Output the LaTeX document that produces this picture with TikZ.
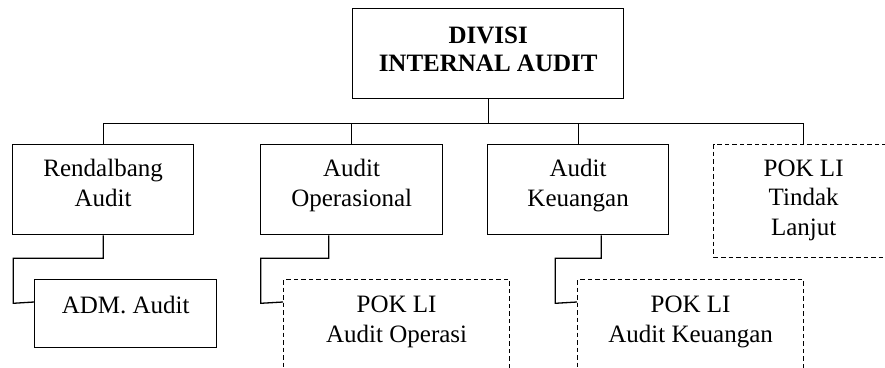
\documentclass[tikz,border=0pt]{standalone}
\usepackage{fontspec}
\setmainfont{Liberation Serif}
\usetikzlibrary{calc}
\begin{document}
\begin{tikzpicture}[x=1pt,y=-1pt,
  box/.style={draw, line width=1.3pt, minimum width=#1, inner sep=0pt, anchor=north west},
  dbox/.style={box=#1, dash pattern=on 4.5pt off 3pt},
  txt/.style={font=\fontsize{25}{29.5}\selectfont, align=center, inner sep=0pt, anchor=base},
  btxt/.style={font=\fontsize{25}{28}\selectfont\bfseries, align=center, inner sep=0pt, anchor=base},
  conn/.style={line width=1.3pt}]
\useasboundingbox (0,0) rectangle (885,367);
\clip (0,0) rectangle (885,367);
% boxes
\node[box=271pt, minimum height=90pt] (top) at (352,8) {};
\node[box=181pt, minimum height=90pt] (rend) at (12,144) {};
\node[box=182pt, minimum height=90pt] (op) at (260,144) {};
\node[box=181pt, minimum height=90pt] (keu) at (487,144) {};
\node[dbox=180pt, minimum height=113pt] (tl) at (713,144) {};
\node[box=182pt, minimum height=68pt] (adm) at (34,279) {};
\node[dbox=226pt, minimum height=110pt] (poa) at (283,279) {};
\node[dbox=226pt, minimum height=110pt] (pak) at (577,279) {};
% texts (anchored at the baseline of the last line)
\node[btxt] (ttop) at (top.center |- 0,71) {DIVISI\\INTERNAL AUDIT};
\node[txt] (trend) at (rend.center |- 0,206) {Rendalbang\\Audit};
\node[txt] (top2) at (op.center |- 0,206) {Audit\\Operasional};
\node[txt] (tkeu) at (keu.center |- 0,206) {Audit\\Keuangan};
\node[txt] (ttl) at (tl.center |- 0,235) {POK LI\\Tindak\\Lanjut};
\node[txt] (tadm) at (adm.center |- 0,313) {ADM. Audit};
\node[txt] (tpoa) at (poa.center |- 0,342) {POK LI\\Audit Operasi};
\node[txt] (tpak) at (pak.center |- 0,342) {POK LI\\Audit Keuangan};
% connectors
\draw[conn] (top.south) -- ++(0,24) -| (rend.north);
\draw[conn] (top.south) -- ++(0,24) -| (op.north);
\draw[conn] (top.south) -- ++(0,24) -| (keu.north);
\draw[conn] (top.south) -- ++(0,24) -| (tl.north);
\draw[conn] (rend.south) -- ++(0,23) -| ++(-90,45) -- ($(adm.north west)+(0,23)$);
\draw[conn] ([xshift=-23pt]op.south) -- ++(0,23) -| ++(-68,45) -- ($(poa.north west)+(0,23)$);
\draw[conn] ([xshift=23pt]keu.south) -- ++(0,23) -| ++(-46,45) -- ($(pak.north west)+(0,23)$);
\end{tikzpicture}
\end{document}
